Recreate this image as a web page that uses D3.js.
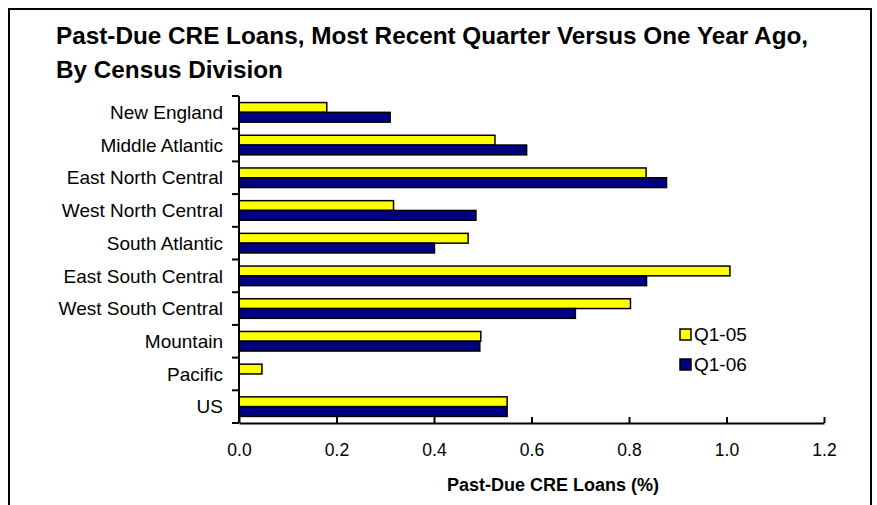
<!DOCTYPE html>
<html>
<head>
<meta charset="utf-8">
<script src="https://cdn.jsdelivr.net/npm/d3@7"></script>
<style>
  html, body { margin: 0; padding: 0; background: #fff; }
  svg { display: block; font-family: "Liberation Sans", Arial, Helvetica, sans-serif; }
</style>
</head>
<body>
<svg id="chart" width="877" height="505"></svg>
<script>
// Census divisions, top to bottom
const divisions = [
  "New England", "Middle Atlantic", "East North Central", "West North Central",
  "South Atlantic", "East South Central", "West South Central", "Mountain",
  "Pacific", "US"
];
// Past-due CRE loans (%) by quarter
const q105 = [0.18, 0.525, 0.835, 0.317, 0.47, 1.007, 0.803, 0.496, 0.047, 0.55];
const q106 = [0.31, 0.59, 0.877, 0.486, 0.401, 0.836, 0.69, 0.494, 0.0, 0.55];
const seriesNames = ["Q1-05", "Q1-06"];
const seriesColors = ["#FFFF00", "#000080"];
const xTicks = [0, 0.2, 0.4, 0.6, 0.8, 1.0, 1.2];

const svg = d3.select("#chart");

// outer frame (open at the bottom edge)
svg.append("path")
  .attr("d", "M9,510 V9 H871 V510")
  .attr("fill", "none").attr("stroke", "#000").attr("stroke-width", 2);

// title
const title = svg.append("text")
  .attr("font-weight", "bold").attr("font-size", 24.3).attr("fill", "#000");
title.append("tspan").attr("x", 56).attr("y", 44)
  .text("Past-Due CRE Loans, Most Recent Quarter Versus One Year Ago,");
title.append("tspan").attr("x", 56).attr("y", 78)
  .text("By Census Division");

const plot = { left: 239, right: 824, top: 96, bottom: 423 };

const x = d3.scaleLinear().domain([0, 1.2]).range([plot.left, plot.right]);
const y = d3.scaleBand().domain(divisions).range([plot.top, plot.bottom]).paddingInner(0).paddingOuter(0);
const inner = d3.scaleBand().domain(seriesNames).range([0, y.bandwidth()]).paddingInner(0).paddingOuter(0.67);

const rows = divisions.map((d, i) => ({ division: d, values: [q105[i], q106[i]] }));

// bars
const groups = svg.append("g").selectAll("g").data(rows).join("g")
  .attr("transform", d => `translate(0,${y(d.division)})`);
groups.selectAll("rect")
  .data(d => d.values.map((v, j) => ({ v, name: seriesNames[j], color: seriesColors[j] })).filter(e => e.v > 0))
  .join("rect")
  .attr("x", x(0))
  .attr("y", e => inner(e.name))
  .attr("width", e => x(e.v) - x(0))
  .attr("height", inner.bandwidth())
  .attr("fill", e => e.color)
  .attr("stroke", "#000").attr("stroke-width", 1.5);

// y axis: line, ticks at category boundaries, labels
const yAxis = svg.append("g");
yAxis.append("line")
  .attr("x1", plot.left).attr("x2", plot.left)
  .attr("y1", plot.top).attr("y2", plot.bottom)
  .attr("stroke", "#000").attr("stroke-width", 2);
const boundaries = divisions.map(d => y(d)).concat([plot.bottom]);
yAxis.selectAll("line.tick").data(boundaries).join("line")
  .attr("class", "tick")
  .attr("x1", plot.left - 7).attr("x2", plot.left)
  .attr("y1", d => d).attr("y2", d => d)
  .attr("stroke", "#000").attr("stroke-width", 2);
yAxis.selectAll("text").data(divisions).join("text")
  .attr("x", plot.left - 16)
  .attr("y", d => y(d) + y.bandwidth() / 2)
  .attr("dy", "0.35em")
  .attr("text-anchor", "end")
  .attr("font-size", 19)
  .attr("fill", "#000")
  .text(d => d);

// x axis
const xAxis = svg.append("g")
  .attr("transform", `translate(0,${plot.bottom})`)
  .call(d3.axisBottom(x).tickValues(xTicks).tickFormat(d3.format(".1f")).tickSizeInner(-6).tickSizeOuter(0).tickPadding(21));
xAxis.select(".domain").attr("stroke", "#000").attr("stroke-width", 2);
xAxis.selectAll(".tick line").attr("stroke", "#000").attr("stroke-width", 2);
xAxis.selectAll(".tick text")
  .attr("font-size", 17.5).attr("fill", "#000")
  .attr("font-family", "'Liberation Sans', Arial, sans-serif");

svg.append("text")
  .attr("x", 553).attr("y", 491)
  .attr("text-anchor", "middle")
  .attr("font-weight", "bold").attr("font-size", 18).attr("fill", "#000")
  .text("Past-Due CRE Loans (%)");

// legend
const legend = svg.append("g").selectAll("g").data(seriesNames).join("g")
  .attr("transform", (d, i) => `translate(680,${329 + i * 30})`);
legend.append("rect")
  .attr("width", 11).attr("height", 11)
  .attr("fill", (d, i) => seriesColors[i])
  .attr("stroke", "#000").attr("stroke-width", 1.5);
legend.append("text")
  .attr("x", 14).attr("y", 12)
  .attr("font-size", 19).attr("fill", "#000")
  .text(d => d);
</script>
</body>
</html>
